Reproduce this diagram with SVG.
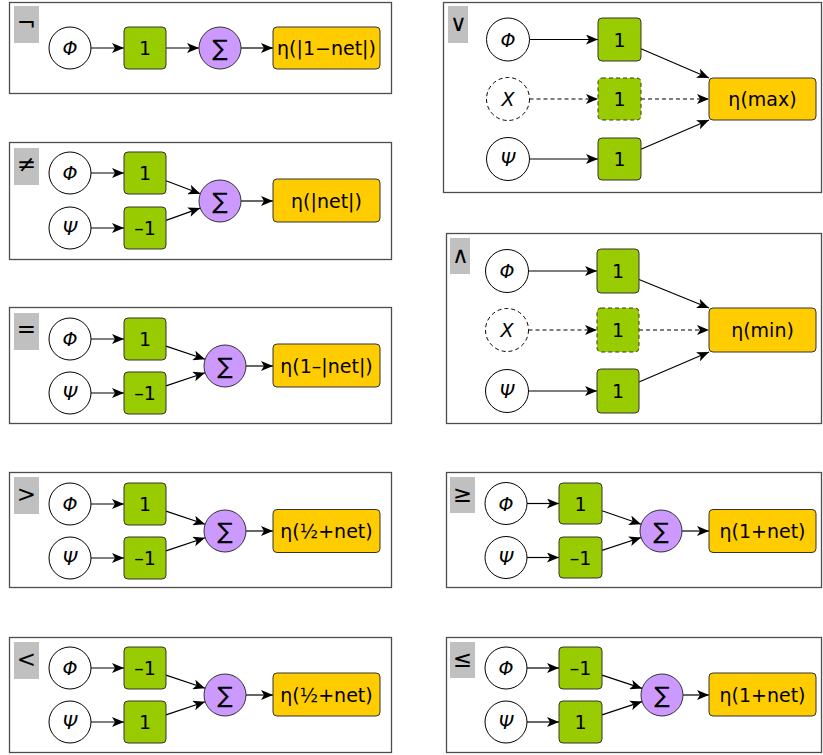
<svg xmlns="http://www.w3.org/2000/svg" width="823" height="755" viewBox="0 0 823 755">
<style>
.frame{fill:#fff;stroke:#4d4d4d;stroke-width:1.3}
.lbl{fill:#c0c0c0;stroke:none}
.lt{font-family:"DejaVu Sans",sans-serif;font-size:23px;fill:#000;text-anchor:middle;dominant-baseline:central}
.in{fill:#fff;stroke:#000;stroke-width:1}
.dash{stroke-dasharray:4,3}
.w{fill:#99cc00;stroke:#333;stroke-width:1}
.s{fill:#cc99ff;stroke:#333;stroke-width:1}
.o{fill:#ffcc00;stroke:#333;stroke-width:1}
.g{font-family:"DejaVu Sans",sans-serif;font-style:italic;font-size:19px;fill:#000;text-anchor:middle;dominant-baseline:central}
.t{font-family:"DejaVu Sans",sans-serif;font-size:19px;fill:#000;text-anchor:middle;dominant-baseline:central}
.sg{font-family:"DejaVu Sans",sans-serif;font-size:23px;fill:#000;text-anchor:middle;dominant-baseline:central}
.e{stroke:#000;stroke-width:1.2;fill:none;marker-end:url(#ah)}
</style>
<defs>
<marker id="ah" markerUnits="userSpaceOnUse" markerWidth="12" markerHeight="10" viewBox="0 0 12 10" refX="12" refY="5" orient="auto">
<path d="M0,0 L12,5 L0,10 L3,5 Z" fill="#000"/>
</marker>
</defs>

<!-- Frames and labels -->
<g id="panel-not">
<rect class="frame" x="9.5" y="2.5" width="382" height="91"/>
<rect class="lbl" x="14" y="6" width="25" height="37"/>
<text class="lt" x="26.5" y="23">¬</text>
</g>
<g id="panel-neq">
<rect class="frame" x="9.5" y="142.5" width="382" height="117"/>
<rect class="lbl" x="14" y="148" width="25" height="37"/>
<text class="lt" x="26.5" y="164">≠</text>
</g>
<g id="panel-eq">
<rect class="frame" x="9.5" y="307.5" width="382" height="116"/>
<rect class="lbl" x="14" y="313" width="25" height="37"/>
<text class="lt" x="26.5" y="329">=</text>
</g>
<g id="panel-gt">
<rect class="frame" x="9.5" y="472.5" width="382" height="115"/>
<rect class="lbl" x="14" y="477" width="25" height="37"/>
<text class="lt" x="26.5" y="494">&gt;</text>
</g>
<g id="panel-lt">
<rect class="frame" x="9.5" y="637.5" width="382" height="115"/>
<rect class="lbl" x="14" y="642" width="25" height="37"/>
<text class="lt" x="26.5" y="659">&lt;</text>
</g>
<g id="panel-or">
<rect class="frame" x="443.5" y="2.5" width="378" height="190"/>
<rect class="lbl" x="448" y="6" width="20" height="37"/>
<text class="lt" x="458" y="23" style="font-weight:200">∨</text>
</g>
<g id="panel-and">
<rect class="frame" x="446.5" y="233.5" width="375" height="190"/>
<rect class="lbl" x="450" y="238" width="20" height="36"/>
<text class="lt" x="460" y="255" style="font-weight:200">∧</text>
</g>
<g id="panel-geq">
<rect class="frame" x="446.5" y="472.5" width="375" height="115"/>
<rect class="lbl" x="450" y="477" width="25" height="36"/>
<text class="lt" x="462.5" y="494">≥</text>
</g>
<g id="panel-leq">
<rect class="frame" x="446.5" y="637.5" width="375" height="115"/>
<rect class="lbl" x="450" y="642" width="25" height="36"/>
<text class="lt" x="462.5" y="659">≤</text>
</g>

<!-- Connectors -->
<g id="connectors">
<line class="e" x1="91" y1="48" x2="124" y2="48"/>
<line class="e" x1="166" y1="48" x2="199" y2="48"/>
<line class="e" x1="241" y1="48" x2="273" y2="48"/>
<line class="e" x1="91" y1="173" x2="124" y2="173"/>
<line class="e" x1="91" y1="228" x2="124" y2="228"/>
<line class="e" x1="166" y1="180.8" x2="200.3" y2="193.7"/>
<line class="e" x1="166" y1="220.4" x2="200.2" y2="208.1"/>
<line class="e" x1="241" y1="201" x2="273" y2="201"/>
<line class="e" x1="91" y1="339" x2="124" y2="339"/>
<line class="e" x1="91" y1="393" x2="124" y2="393"/>
<line class="e" x1="166" y1="346.1" x2="205.1" y2="359.3"/>
<line class="e" x1="166" y1="385.9" x2="205.1" y2="372.7"/>
<line class="e" x1="246" y1="366" x2="273" y2="366"/>
<line class="e" x1="91" y1="504" x2="124" y2="504"/>
<line class="e" x1="91" y1="558" x2="124" y2="558"/>
<line class="e" x1="166" y1="511.1" x2="205.1" y2="524.3"/>
<line class="e" x1="166" y1="550.9" x2="205.1" y2="537.7"/>
<line class="e" x1="246" y1="531" x2="273" y2="531"/>
<line class="e" x1="91" y1="668" x2="124" y2="668"/>
<line class="e" x1="91" y1="722" x2="124" y2="722"/>
<line class="e" x1="166" y1="675.1" x2="205.1" y2="688.3"/>
<line class="e" x1="166" y1="714.9" x2="205.1" y2="701.7"/>
<line class="e" x1="246" y1="695" x2="273" y2="695"/>
<line class="e" x1="529.5" y1="39.5" x2="598" y2="39.5"/>
<line class="e dash" x1="529.5" y1="99" x2="598" y2="99"/>
<line class="e" x1="529.5" y1="159" x2="598" y2="159"/>
<line class="e" x1="641" y1="48.7" x2="709" y2="78"/>
<line class="e dash" x1="641" y1="99" x2="709" y2="99"/>
<line class="e" x1="641" y1="149.3" x2="709" y2="120"/>
<line class="e" x1="528.5" y1="271" x2="597" y2="271"/>
<line class="e dash" x1="528.5" y1="330" x2="597" y2="330"/>
<line class="e" x1="528.5" y1="391" x2="597" y2="391"/>
<line class="e" x1="639" y1="279.5" x2="709" y2="308"/>
<line class="e dash" x1="639" y1="330" x2="709" y2="330"/>
<line class="e" x1="639" y1="382" x2="709" y2="352"/>
<line class="e" x1="527" y1="503.5" x2="559" y2="503.5"/>
<line class="e" x1="527" y1="557.5" x2="559" y2="557.5"/>
<line class="e" x1="602" y1="510.8" x2="641.1" y2="524.2"/>
<line class="e" x1="602" y1="550.4" x2="641.1" y2="537.5"/>
<line class="e" x1="682" y1="531" x2="709" y2="531"/>
<line class="e" x1="527" y1="668" x2="559" y2="668"/>
<line class="e" x1="527" y1="722" x2="559" y2="722"/>
<line class="e" x1="602" y1="675.1" x2="642.1" y2="688.4"/>
<line class="e" x1="602" y1="714.9" x2="642.1" y2="701.6"/>
<line class="e" x1="683" y1="695" x2="709" y2="695"/>
</g>

<!-- NOT nodes -->
<g id="not-phi"><circle class="in" cx="70" cy="48" r="21"/><text class="g" x="70" y="48">Φ</text></g>
<g id="not-w"><rect class="w" x="124" y="27" width="42" height="42" rx="4"/><text class="t" x="145" y="48">1</text></g>
<g id="not-sum"><circle class="s" cx="220" cy="48" r="21"/><text class="sg" x="220" y="48">∑</text></g>
<g id="not-out"><rect class="o" x="273" y="27" width="107" height="42" rx="4"/><text class="t" x="326.5" y="48">η(|1−net|)</text></g>

<!-- NEQ nodes -->
<g id="neq-phi"><circle class="in" cx="70" cy="173" r="21"/><text class="g" x="70" y="173">Φ</text></g>
<g id="neq-psi"><circle class="in" cx="70" cy="228" r="21"/><text class="g" x="70" y="228">Ψ</text></g>
<g id="neq-w1"><rect class="w" x="124" y="152" width="42" height="42" rx="4"/><text class="t" x="145" y="173">1</text></g>
<g id="neq-w2"><rect class="w" x="124" y="207" width="42" height="42" rx="4"/><text class="t" x="145" y="228">–1</text></g>
<g id="neq-sum"><circle class="s" cx="220" cy="201" r="21"/><text class="sg" x="220" y="201">∑</text></g>
<g id="neq-out"><rect class="o" x="273" y="179" width="107" height="43" rx="4"/><text class="t" x="326.5" y="200.5">η(|net|)</text></g>

<!-- EQ nodes -->
<g id="eq-phi"><circle class="in" cx="70" cy="339" r="21"/><text class="g" x="70" y="339">Φ</text></g>
<g id="eq-psi"><circle class="in" cx="70" cy="393" r="21"/><text class="g" x="70" y="393">Ψ</text></g>
<g id="eq-w1"><rect class="w" x="124" y="318" width="42" height="42" rx="4"/><text class="t" x="145" y="339">1</text></g>
<g id="eq-w2"><rect class="w" x="124" y="372" width="42" height="42" rx="4"/><text class="t" x="145" y="393">–1</text></g>
<g id="eq-sum"><circle class="s" cx="225" cy="366" r="21"/><text class="sg" x="225" y="366">∑</text></g>
<g id="eq-out"><rect class="o" x="273" y="344" width="107" height="43" rx="4"/><text class="t" x="326.5" y="365.5">η(1–|net|)</text></g>

<!-- GT nodes -->
<g id="gt-phi"><circle class="in" cx="70" cy="504" r="21"/><text class="g" x="70" y="504">Φ</text></g>
<g id="gt-psi"><circle class="in" cx="70" cy="558" r="21"/><text class="g" x="70" y="558">Ψ</text></g>
<g id="gt-w1"><rect class="w" x="124" y="483" width="42" height="42" rx="4"/><text class="t" x="145" y="504">1</text></g>
<g id="gt-w2"><rect class="w" x="124" y="537" width="42" height="42" rx="4"/><text class="t" x="145" y="558">–1</text></g>
<g id="gt-sum"><circle class="s" cx="225" cy="531" r="21"/><text class="sg" x="225" y="531">∑</text></g>
<g id="gt-out"><rect class="o" x="273" y="509.5" width="107" height="43" rx="4"/><text class="t" x="326.5" y="531">η(½+net)</text></g>

<!-- LT nodes -->
<g id="lt-phi"><circle class="in" cx="70" cy="668" r="21"/><text class="g" x="70" y="668">Φ</text></g>
<g id="lt-psi"><circle class="in" cx="70" cy="722" r="21"/><text class="g" x="70" y="722">Ψ</text></g>
<g id="lt-w1"><rect class="w" x="124" y="647" width="42" height="42" rx="4"/><text class="t" x="145" y="668">–1</text></g>
<g id="lt-w2"><rect class="w" x="124" y="701" width="42" height="42" rx="4"/><text class="t" x="145" y="722">1</text></g>
<g id="lt-sum"><circle class="s" cx="225" cy="695" r="21"/><text class="sg" x="225" y="695">∑</text></g>
<g id="lt-out"><rect class="o" x="273" y="673" width="107" height="43" rx="4"/><text class="t" x="326.5" y="694.5">η(½+net)</text></g>

<!-- OR nodes -->
<g id="or-phi"><circle class="in" cx="508" cy="39.5" r="21.5"/><text class="g" x="508" y="39.5">Φ</text></g>
<g id="or-chi"><circle class="in dash" cx="508" cy="99" r="21.5"/><text class="g" x="508" y="99">Χ</text></g>
<g id="or-psi"><circle class="in" cx="508" cy="159" r="21.5"/><text class="g" x="508" y="159">Ψ</text></g>
<g id="or-w1"><rect class="w" x="598" y="18" width="43" height="43" rx="4"/><text class="t" x="619.5" y="39.5">1</text></g>
<g id="or-w2"><rect class="w dash" x="598" y="78" width="43" height="42" rx="4"/><text class="t" x="619.5" y="99">1</text></g>
<g id="or-w3"><rect class="w" x="598" y="138" width="43" height="42" rx="4"/><text class="t" x="619.5" y="159">1</text></g>
<g id="or-out"><rect class="o" x="709" y="78" width="107" height="42" rx="4"/><text class="t" x="762.5" y="99">η(max)</text></g>

<!-- AND nodes -->
<g id="and-phi"><circle class="in" cx="507" cy="271" r="21.5"/><text class="g" x="507" y="271">Φ</text></g>
<g id="and-chi"><circle class="in dash" cx="507" cy="330" r="21.5"/><text class="g" x="507" y="330">Χ</text></g>
<g id="and-psi"><circle class="in" cx="507" cy="391" r="21.5"/><text class="g" x="507" y="391">Ψ</text></g>
<g id="and-w1"><rect class="w" x="597" y="249" width="42" height="44" rx="4"/><text class="t" x="618" y="271">1</text></g>
<g id="and-w2"><rect class="w dash" x="597" y="308" width="42" height="44" rx="4"/><text class="t" x="618" y="330">1</text></g>
<g id="and-w3"><rect class="w" x="597" y="369" width="42" height="44" rx="4"/><text class="t" x="618" y="391">1</text></g>
<g id="and-out"><rect class="o" x="709" y="308" width="107" height="44" rx="4"/><text class="t" x="762.5" y="330">η(min)</text></g>

<!-- GEQ nodes -->
<g id="geq-phi"><circle class="in" cx="506" cy="503.5" r="21"/><text class="g" x="506" y="503.5">Φ</text></g>
<g id="geq-psi"><circle class="in" cx="506" cy="557.5" r="21"/><text class="g" x="506" y="557.5">Ψ</text></g>
<g id="geq-w1"><rect class="w" x="559" y="483" width="43" height="41" rx="4"/><text class="t" x="580.5" y="503.5">1</text></g>
<g id="geq-w2"><rect class="w" x="559" y="537" width="43" height="41" rx="4"/><text class="t" x="580.5" y="557.5">–1</text></g>
<g id="geq-sum"><circle class="s" cx="661" cy="531" r="21"/><text class="sg" x="661" y="531">∑</text></g>
<g id="geq-out"><rect class="o" x="709" y="509.5" width="107" height="43" rx="4"/><text class="t" x="762.5" y="531">η(1+net)</text></g>

<!-- LEQ nodes -->
<g id="leq-phi"><circle class="in" cx="506" cy="668" r="21"/><text class="g" x="506" y="668">Φ</text></g>
<g id="leq-psi"><circle class="in" cx="506" cy="722" r="21"/><text class="g" x="506" y="722">Ψ</text></g>
<g id="leq-w1"><rect class="w" x="559" y="647" width="43" height="42" rx="4"/><text class="t" x="580.5" y="668">–1</text></g>
<g id="leq-w2"><rect class="w" x="559" y="701" width="43" height="42" rx="4"/><text class="t" x="580.5" y="722">1</text></g>
<g id="leq-sum"><circle class="s" cx="662" cy="695" r="21"/><text class="sg" x="662" y="695">∑</text></g>
<g id="leq-out"><rect class="o" x="709" y="673" width="107" height="43" rx="4"/><text class="t" x="762.5" y="694.5">η(1+net)</text></g>
</svg>
